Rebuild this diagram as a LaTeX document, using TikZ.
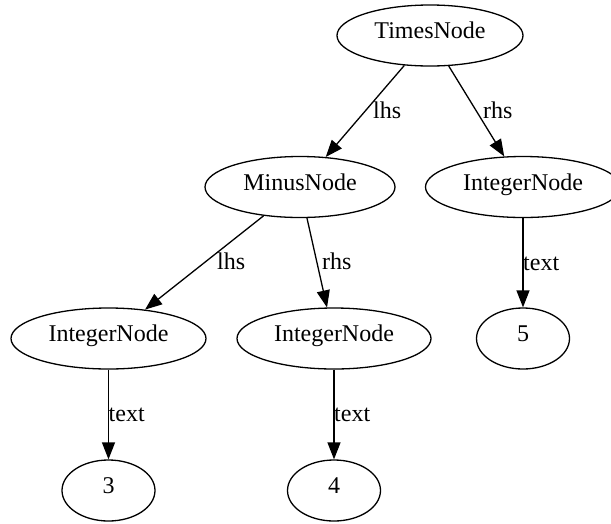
\documentclass[tikz,border=0pt]{standalone}
\usepackage{fontspec}
\setmainfont{Liberation Serif}
\usetikzlibrary{shapes.geometric,arrows.meta}

\begin{document}
\begin{tikzpicture}[x=1pt,y=1pt,yscale=-1,
    ast/.style={draw,ellipse,line width=1.3pt,inner sep=0pt,minimum height=61pt,
      font=\fontsize{24}{28}\selectfont,text height=0.9em,text depth=0.25em},
    lbl/.style={inner sep=0pt,anchor=base west,font=\fontsize{24}{28}\selectfont},
    link/.style={line width=1.3pt,-{Triangle[length=17pt,width=13pt]}}]
  \useasboundingbox (0,0) rectangle (611,523);
  % Tree nodes
  \node[ast,minimum width=186pt] (times) at (430,35.5) {TimesNode};
  \node[ast,minimum width=190pt] (minus) at (300,187) {MinusNode};
  \node[ast,minimum width=195pt] (intR) at (523,187) {IntegerNode};
  \node[ast,minimum width=195pt] (intL) at (108.5,338.5) {IntegerNode};
  \node[ast,minimum width=194pt] (intM) at (334,338.5) {IntegerNode};
  \node[ast,minimum width=93pt] (five) at (523,338.5) {5};
  \node[ast,minimum width=93pt] (three) at (108.5,490.5) {3};
  \node[ast,minimum width=93pt] (four) at (334,490.5) {4};
  % Edge labels
  \node[lbl] (lhsA) at (373,118) {lhs};
  \node[lbl] (rhsA) at (483,118) {rhs};
  \node[lbl] (lhsB) at (217,269) {lhs};
  \node[lbl] (rhsB) at (322,269) {rhs};
  \node[lbl] (textR) at (523,270) {text};
  \node[lbl] (textL) at (108.5,421) {text};
  \node[lbl] (textM) at (334,421) {text};
  % Edges
  \draw[link] (times) -- (minus);
  \draw[link] (times) -- (intR);
  \draw[link] (minus) -- (intL);
  \draw[link] (minus) -- (intM);
  \draw[link] (intR) -- (five);
  \draw[link] (intL) -- (three);
  \draw[link] (intM) -- (four);
\end{tikzpicture}
\end{document}
